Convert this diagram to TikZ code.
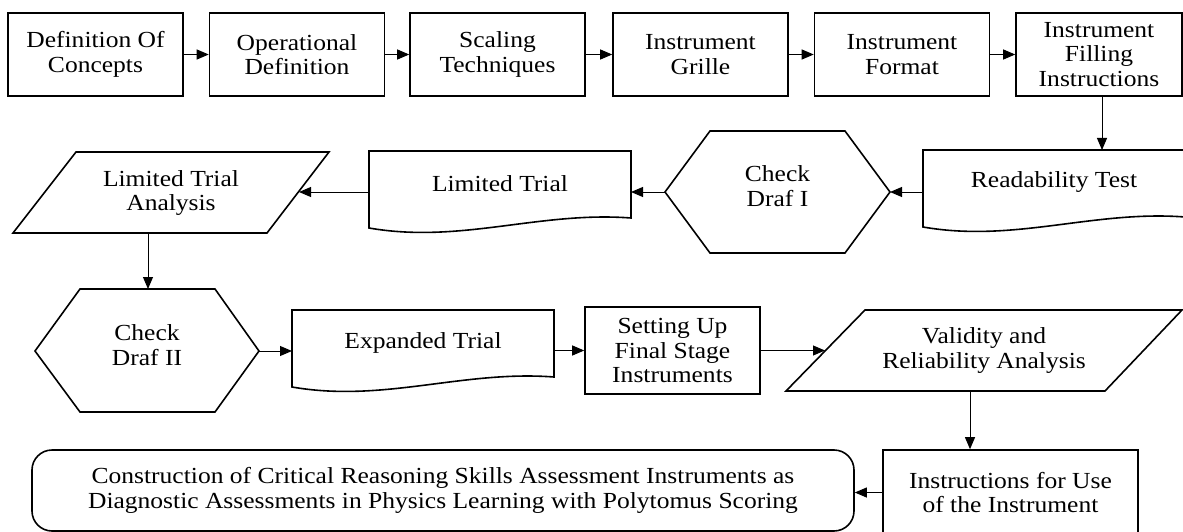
\documentclass[tikz,border=0pt]{standalone}
\usepackage{fontspec}
\setmainfont{Liberation Serif}[FakeStretch=1.11]
\usetikzlibrary{arrows.meta}
\begin{document}
\begin{tikzpicture}[x=1pt,y=-1pt,
  txt/.style={align=center,font=\fontsize{23}{24.3}\selectfont,inner sep=0pt},
  boxstep/.style={txt,draw,line width=1.6pt,minimum width=175pt,minimum height=83pt},
  outline/.style={line width=1.6pt,line join=miter},
  conn/.style={line width=1pt,-{Triangle[length=12pt,width=10pt]}}]
\useasboundingbox (0,0) rectangle (1183,532);
\clip (0,0) rectangle (1183,532);
% top row
\node[boxstep] (b1) at (95.5,54.5) {Definition Of\\Concepts};
\node[boxstep] (b2) at (297,54.5) {Operational\\Definition};
\node[boxstep] (b3) at (497.5,54.5) {Scaling\\Techniques};
\node[boxstep] (b4) at (700.5,54.5) {Instrument\\Grille};
\node[boxstep] (b5) at (902,54.5) {Instrument\\Format};
\node[boxstep,minimum width=166pt] (b6) at (1099,54.5) {Instrument\\Filling\\Instructions};
% row 2 shapes
\draw[outline] (923,227) .. controls (1014.7,243) and (1093.3,210) .. (1185,217) -- (1185,150) -- (923,150) -- cycle;
\node[txt] (rd) at (1054,182) {Readability Test};
\draw[outline] (665,192) -- (710,131) -- (845,131) -- (890,192) -- (845,253) -- (710,253) -- cycle;
\node[txt] (cd1) at (777.5,186) {Check\\Draf I};
\draw[outline] (369,228) .. controls (460.7,244) and (539.3,211) .. (631,218) -- (631,151) -- (369,151) -- cycle;
\node[txt] (lt) at (500,184) {Limited Trial};
\draw[outline] (76,152) -- (329,152) -- (267,233) -- (13,233) -- cycle;
\node[txt] (lta) at (171,193) {Limited Trial\\Analysis};
% row 3 shapes
\draw[outline] (35,351) -- (80,289) -- (215,289) -- (259,351) -- (215,412) -- (80,412) -- cycle;
\node[txt] (cd2) at (147,345) {Check\\Draf II};
\draw[outline] (292,387) .. controls (383.7,403) and (462.3,370) .. (554,377) -- (554,310) -- (292,310) -- cycle;
\node[txt] (et) at (423,343) {Expanded Trial};
\node[boxstep,minimum height=87pt] (st) at (672.5,350.5) {Setting Up\\Final Stage\\Instruments};
\draw[outline] (865,310) -- (1182,310) -- (1105,391) -- (786,391) -- cycle;
\node[txt] (va) at (984,350.5) {Validity and\\Reliability Analysis};
% bottom row
\node[boxstep,minimum width=255pt,minimum height=85pt] (ins) at (1010.5,492.5) {Instructions for Use\\of the Instrument};
\node[boxstep,rounded corners=20pt,minimum width=822pt,minimum height=81pt] (rr) at (443,490.5) {Construction of Critical Reasoning Skills Assessment Instruments as\\Diagnostic Assessments in Physics Learning with Polytomus Scoring};
% connection points on drawn shapes
\coordinate (rdT) at (1102,150);
\coordinate (rdL) at (923,192);
\coordinate (cd1R) at (890,192);
\coordinate (cd1L) at (665,192);
\coordinate (ltR) at (631,192);
\coordinate (ltL) at (369,192);
\coordinate (ltaR) at (299,192);
\coordinate (ltaB) at (148,233);
\coordinate (cd2T) at (148,289);
\coordinate (cd2R) at (259,351);
\coordinate (etL) at (292,351);
\coordinate (etR) at (554,350.5);
\coordinate (vaL) at (825,350.5);
\coordinate (vaB) at (970,391);
% connectors
\draw[conn] (b1) -- (b2);
\draw[conn] (b2) -- (b3);
\draw[conn] (b3) -- (b4);
\draw[conn] (b4) -- (b5);
\draw[conn] (b5) -- (b6);
\draw[conn] (b6.south -| rdT) -- (rdT);
\draw[conn] (rdL) -- (cd1R);
\draw[conn] (cd1L) -- (ltR);
\draw[conn] (ltL) -- (ltaR);
\draw[conn] (ltaB) -- (cd2T);
\draw[conn] (cd2R) -- (etL);
\draw[conn] (etR) -- (st.west);
\draw[conn] (st.east) -- (vaL);
\draw[conn] (vaB) -- (vaB |- ins.north);
\draw[conn] (ins.west) -- (ins.west -| rr.east);
\end{tikzpicture}
\end{document}
